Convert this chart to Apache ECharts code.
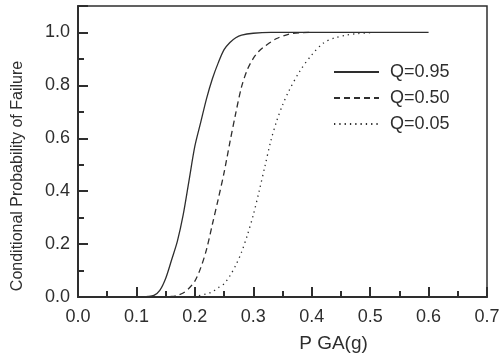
<!DOCTYPE html>
<html>
<head>
<meta charset="utf-8">
<script src="https://cdn.jsdelivr.net/npm/echarts@6/dist/echarts.min.js"></script>
<style>
  html, body { margin: 0; padding: 0; background: #fff; }
  #chart { width: 503px; height: 362px; }
</style>
</head>
<body>
<div id="chart"></div>
<script>
// values
const pga95 = [0.10, 0.12, 0.13, 0.14, 0.15, 0.16, 0.17, 0.18, 0.19, 0.20, 0.21, 0.22, 0.23, 0.24, 0.25, 0.26, 0.27, 0.28, 0.30, 0.33, 0.40, 0.50, 0.60];
const prob95 = [0, 0.002, 0.006, 0.025, 0.07, 0.139, 0.21, 0.31, 0.44, 0.57, 0.66, 0.75, 0.825, 0.885, 0.935, 0.962, 0.98, 0.99, 0.997, 1.0, 1.0, 1.0, 1.0];

const pga50 = [0.14, 0.16, 0.17, 0.18, 0.19, 0.20, 0.21, 0.22, 0.23, 0.24, 0.25, 0.26, 0.27, 0.28, 0.29, 0.30, 0.31, 0.32, 0.34, 0.36, 0.38, 0.40];
const prob50 = [0, 0.002, 0.006, 0.015, 0.033, 0.06, 0.11, 0.18, 0.275, 0.37, 0.47, 0.585, 0.695, 0.795, 0.86, 0.902, 0.93, 0.948, 0.977, 0.993, 0.999, 1.0];

const pga05 = [0.18, 0.20, 0.22, 0.23, 0.24, 0.25, 0.26, 0.27, 0.28, 0.29, 0.30, 0.31, 0.32, 0.33, 0.34, 0.35, 0.36, 0.38, 0.40, 0.42, 0.44, 0.46, 0.48, 0.50];
const prob05 = [0, 0.003, 0.012, 0.02, 0.035, 0.05, 0.08, 0.12, 0.17, 0.235, 0.31, 0.40, 0.495, 0.59, 0.665, 0.725, 0.775, 0.855, 0.915, 0.96, 0.98, 0.99, 0.996, 0.999];

const seriesNames = ['Q=0.95', 'Q=0.50', 'Q=0.05'];
const xTicks = [0, 0.1, 0.2, 0.3, 0.4, 0.5, 0.6, 0.7];
const yTicks = [0, 0.2, 0.4, 0.6, 0.8, 1.0];

const ink = '#2e2e2e';
const font = 'Liberation Sans';

const zip = (xs, ys) => xs.map((x, i) => [x, ys[i]]);

const chart = echarts.init(document.getElementById('chart'));

const lineSeries = (name, data, type) => ({
  name: name,
  type: 'line',
  data: data,
  symbol: 'none',
  smooth: 0.3,
  lineStyle: { color: ink, width: 1.3, type: type },
  itemStyle: { color: ink }
});

chart.setOption({
  animation: false,
  grid: {
    left: 78, right: 16, top: 6, bottom: 65,
    show: true, borderColor: ink, borderWidth: 1.5
  },
  // y axis title, sits a little below the axis middle as in the source figure
  graphic: [{
    type: 'text',
    x: 18,
    y: 176,
    rotation: Math.PI / 2,
    style: {
      text: 'Conditional Probability of Failure',
      fontFamily: font, fontSize: 16, fill: ink,
      align: 'center', verticalAlign: 'middle'
    }
  }],
  legend: {
    orient: 'vertical',
    left: 333,
    top: 63,
    padding: 0,
    itemGap: 8,
    itemWidth: 45,
    itemHeight: 14,
    itemStyle: { opacity: 0 },
    data: seriesNames,
    textStyle: { fontFamily: font, fontSize: 18, color: ink, padding: [0, 0, 0, 6] }
  },
  xAxis: {
    type: 'value',
    min: xTicks[0],
    max: xTicks[xTicks.length - 1],
    interval: 0.1,
    name: 'P GA(g)',
    nameLocation: 'middle',
    nameGap: 37,
    nameTextStyle: { fontFamily: font, fontSize: 19, color: ink, padding: [0, 0, 0, 102] },
    axisLine: { lineStyle: { color: ink, width: 2 } },
    axisTick: { inside: true, length: 10, lineStyle: { color: ink, width: 2 } },
    minorTick: { show: true, splitNumber: 2, length: 6, lineStyle: { color: ink, width: 2 } },
    splitLine: { show: false },
    axisLabel: {
      margin: 11, fontFamily: font, fontSize: 18, color: ink,
      formatter: v => v.toFixed(1)
    }
  },
  yAxis: [{
    type: 'value',
    min: yTicks[0],
    max: 1.1,
    interval: 0.2,
    axisLine: { lineStyle: { color: ink, width: 2 } },
    axisTick: { inside: true, length: 10, lineStyle: { color: ink, width: 2 } },
    splitLine: { show: false },
    axisLabel: {
      margin: 8, fontFamily: font, fontSize: 18, color: ink,
      formatter: v => (v > 1.05 ? '' : v.toFixed(1))
    }
  }, {
    // minor ticks every 0.1
    type: 'value',
    position: 'left',
    min: 0,
    max: 1.1,
    interval: 0.1,
    axisLine: { show: false },
    axisTick: { inside: true, length: 6, lineStyle: { color: ink, width: 2 } },
    axisLabel: { show: false },
    splitLine: { show: false }
  }],
  series: [
    lineSeries(seriesNames[0], zip(pga95, prob95), 'solid'),
    lineSeries(seriesNames[1], zip(pga50, prob50), [6, 4]),
    lineSeries(seriesNames[2], zip(pga05, prob05), [1.3, 4])
  ]
});
</script>
</body>
</html>
